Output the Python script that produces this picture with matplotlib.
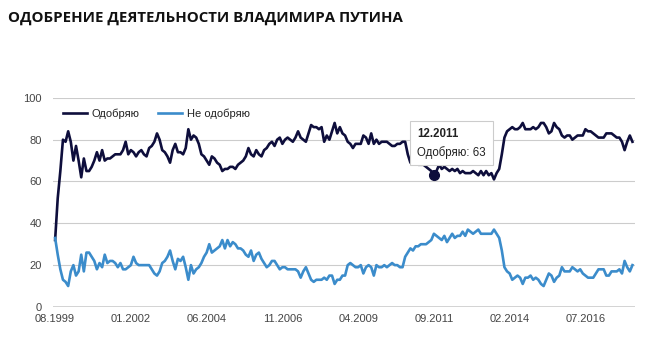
import matplotlib.pyplot as plt
from matplotlib.offsetbox import AnnotationBbox, TextArea, VPacker

# monthly series, 08.1999 .. 02.2018
approve = [
    32, 52, 65, 80, 79, 84, 79, 70, 77, 70, 62, 71, 65, 65, 67, 70, 74, 70, 75, 70,
    71, 71, 72, 73, 73, 73, 75, 79, 73, 75, 74, 72, 74, 75, 73, 72, 76, 77, 79, 83,
    80, 75, 74, 72, 69, 75, 78, 74, 74, 73, 76, 85, 80, 82, 81, 78, 73, 72, 70, 68,
    72, 71, 69, 68, 65, 66, 66, 67, 67, 66, 68, 69, 70, 72, 76, 73, 72, 75, 73, 72,
    75, 76, 78, 79, 77, 80, 81, 78, 80, 81, 80, 79, 81, 84, 81, 80, 79, 83, 87, 86,
    86, 85, 86, 79, 82, 80, 84, 88, 83, 86, 83, 82, 79, 78, 76, 78, 78, 78, 82, 81,
    78, 83, 78, 80, 78, 79, 79, 79, 78, 77, 77, 78, 78, 79, 79, 73, 69, 70, 69, 68,
    68, 68, 67, 66, 65, 63, 65, 68, 66, 67, 66, 65, 66, 65, 66, 64, 65, 64, 64, 64,
    65, 64, 63, 65, 63, 65, 63, 64, 61, 64, 66, 73, 81, 84, 85, 86, 85, 85, 86, 88,
    85, 85, 85, 86, 85, 86, 88, 88, 86, 83, 84, 88, 86, 85, 82, 81, 82, 82, 80, 81,
    82, 82, 82, 85, 84, 84, 83, 82, 81, 81, 81, 83, 83, 83, 82, 81, 81, 79, 75, 79,
    82, 79,
]
disapprove = [
    33, 25, 18, 13, 12, 10, 17, 20, 15, 17, 25, 17, 26, 26, 24, 22, 18, 21, 19, 25,
    21, 22, 22, 21, 19, 21, 18, 18, 19, 20, 24, 21, 20, 20, 20, 20, 20, 18, 16, 15,
    17, 21, 22, 24, 27, 22, 18, 23, 22, 24, 19, 13, 20, 16, 18, 19, 21, 24, 26, 30,
    26, 27, 28, 29, 32, 28, 32, 29, 31, 30, 28, 28, 27, 25, 24, 27, 22, 25, 26, 23,
    21, 19, 20, 22, 22, 20, 18, 19, 19, 18, 18, 18, 18, 17, 14, 17, 19, 16, 13, 12,
    13, 13, 13, 14, 13, 15, 15, 11, 13, 13, 15, 15, 20, 21, 20, 19, 19, 20, 16, 19,
    20, 19, 15, 20, 19, 19, 20, 19, 20, 21, 20, 20, 19, 19, 24, 26, 28, 27, 29, 29,
    30, 30, 30, 31, 32, 35, 34, 33, 32, 34, 31, 33, 35, 33, 34, 34, 36, 34, 37, 36,
    35, 36, 37, 35, 35, 35, 35, 35, 37, 35, 33, 27, 19, 17, 16, 13, 14, 15, 14, 11,
    14, 14, 15, 13, 14, 13, 11, 10, 13, 16, 15, 12, 14, 15, 19, 17, 17, 17, 19, 18,
    17, 18, 16, 15, 14, 14, 14, 16, 18, 18, 18, 15, 15, 17, 17, 17, 18, 16, 22, 19,
    17, 20,
]
tick_labels = ['08.1999', '01.2002', '06.2004', '11.2006', '04.2009', '09.2011', '02.2014', '07.2016']
tick_step = 29
tip_index = 145
tip_label = '12.2011'

dark = '#0e0e3c'
blue = '#3b8ccb'

plt.rcParams['font.family'] = ['Liberation Sans', 'DejaVu Sans']

fig = plt.figure(figsize=(6.49, 3.52), dpi=100)
ax = fig.add_axes([0.0817, 0.128, 0.896, 0.594])

x = list(range(len(approve)))
ax.plot(x, approve, color=dark, lw=1.9, label='Одобряю', zorder=3)
ax.plot(x, disapprove, color=blue, lw=1.9, label='Не одобряю', zorder=3)

ax.set_ylim(0, 100)
ax.set_xlim(-0.8, len(approve) - 0.2)
ax.set_yticks([0, 20, 40, 60, 80, 100])
ax.set_xticks(range(0, tick_step * len(tick_labels), tick_step))
ax.set_xticklabels(tick_labels)
ax.grid(axis='y', color='#cccccc', lw=0.8)
ax.axhline(0, color='#333333', lw=1, zorder=2)
for s in ax.spines.values():
    s.set_visible(False)
ax.tick_params(length=0, labelsize=8, colors='#444444')
ax.tick_params(axis='x', pad=5)
ax.tick_params(axis='y', pad=8)

ax.legend(loc='upper left', bbox_to_anchor=(0.0, 0.995), ncol=2, frameon=False,
          fontsize=8, handlelength=2.2, columnspacing=1.6, handletextpad=0.4,
          labelcolor='#222222')

# tooltip
ax.plot(tip_index, approve[tip_index], 'o', ms=7, color=dark, zorder=5)
box = VPacker(children=[
    TextArea(tip_label, textprops=dict(fontsize=8.3, fontweight='bold', color='#222222')),
    TextArea(f'Одобряю: {approve[tip_index]}', textprops=dict(fontsize=8.3, color='#222222')),
], align='left', pad=0, sep=4)
ab = AnnotationBbox(box, (tip_index, approve[tip_index]), xybox=(-12, 12),
                    boxcoords='offset points', box_alignment=(0, 0),
                    bboxprops=dict(boxstyle='square,pad=0.5', fc='white', ec='#cccccc', lw=0.8),
                    zorder=6)
ax.add_artist(ab)

fig.text(0.012, 0.948, 'ОДОБРЕНИЕ ДЕЯТЕЛЬНОСТИ ВЛАДИМИРА ПУТИНА', fontsize=10.8,
         fontweight='bold', family='Open Sans', color='#111111', va='center')

fig.savefig('out.png', dpi=100)
